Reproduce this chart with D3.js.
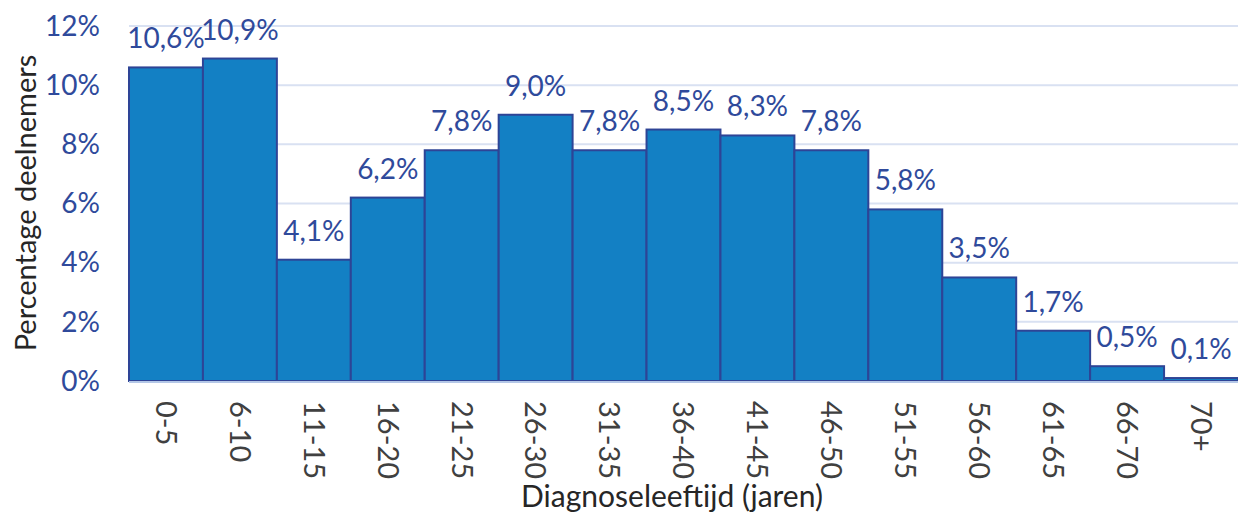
<!DOCTYPE html>
<html>
<head>
<meta charset="utf-8">
<script src="https://cdn.jsdelivr.net/npm/d3@7"></script>
<style>
  body { margin: 0; background: #fff; }
  text { font-family: Lato, "Open Sans", sans-serif; }
</style>
</head>
<body>
<div id="canvas"></div>
<script>
// age groups and share of participants (%)
let ageGroups = ["0-5", "6-10", "11-15", "16-20", "21-25", "26-30", "31-35", "36-40", "41-45", "46-50", "51-55", "56-60", "61-65", "66-70", "70+"]
let percentages = [10.6, 10.9, 4.1, 6.2, 7.8, 9.0, 7.8, 8.5, 8.3, 7.8, 5.8, 3.5, 1.7, 0.5, 0.1]
let yTicks = [0, 2, 4, 6, 8, 10, 12]

window.onload = function () { setup() }

function setup() {
  let width = 1238, height = 513
  let margin = { left: 129, right: 0, top: 26, bottom: 132 }

  let svg = d3.select("#canvas")
    .append("svg")
    .attr("width", width)
    .attr("height", height)

  let x = d3.scaleBand()
    .domain(ageGroups)
    .range([margin.left, width - margin.right])
    .padding(0)

  let y = d3.scaleLinear()
    .domain([0, 12])
    .range([height - margin.bottom, margin.top])

  let data = ageGroups.map((g, i) => ({ group: g, value: percentages[i] }))

  // gridlines
  svg.append("g")
    .selectAll("line")
    .data(yTicks.filter(t => t > 0))
    .join("line")
    .attr("x1", margin.left)
    .attr("x2", width - margin.right)
    .attr("y1", d => y(d))
    .attr("y2", d => y(d))
    .attr("stroke", "#d9e1f2")
    .attr("stroke-width", 2)

  // y tick labels
  svg.append("g")
    .selectAll("text")
    .data(yTicks)
    .join("text")
    .attr("x", 100)
    .attr("y", d => y(d))
    .attr("dy", "0.35em")
    .attr("text-anchor", "end")
    .attr("fill", "#2f4a9b")
    .style("font-size", "28px")
    .text(d => d + "%")

  // bars
  svg.append("g")
    .selectAll("rect")
    .data(data)
    .join("rect")
    .attr("x", d => x(d.group))
    .attr("y", d => y(d.value))
    .attr("width", x.bandwidth())
    .attr("height", d => y(0) - y(d.value))
    .attr("fill", "#1380c4")
    .attr("stroke", "#2e4496")
    .attr("stroke-width", 2)

  // baseline
  svg.append("line")
    .attr("x1", margin.left)
    .attr("x2", width - margin.right)
    .attr("y1", y(0) + 1)
    .attr("y2", y(0) + 1)
    .attr("stroke", "#b4c7e7")
    .attr("stroke-width", 2)

  // value labels
  svg.append("g")
    .selectAll("text")
    .data(data)
    .join("text")
    .attr("x", d => x(d.group) + x.bandwidth() / 2)
    .attr("y", d => y(d.value) - 19)
    .attr("text-anchor", "middle")
    .attr("fill", "#2f4a9b")
    .style("font-size", "28px")
    .text(d => d.value.toFixed(1).replace(".", ",") + "%")

  // x tick labels, rotated
  svg.append("g")
    .selectAll("text")
    .data(ageGroups)
    .join("text")
    .attr("transform", d => "translate(" + (x(d) + x.bandwidth() / 2) + "," + (y(0) + 20) + ") rotate(90)")
    .attr("dy", "0.35em")
    .attr("text-anchor", "start")
    .attr("fill", "#404040")
    .style("font-size", "29px")
    .text(d => d)

  // axis titles
  svg.append("text")
    .attr("x", 672)
    .attr("y", 507)
    .attr("text-anchor", "middle")
    .attr("fill", "#262626")
    .style("font-size", "30px")
    .text("Diagnoseleeftijd (jaren)")

  svg.append("text")
    .attr("transform", "translate(36," + 203 + ") rotate(-90)")
    .attr("text-anchor", "middle")
    .attr("fill", "#262626")
    .style("font-size", "29px")
    .text("Percentage deelnemers")
}
</script>
</body>
</html>
